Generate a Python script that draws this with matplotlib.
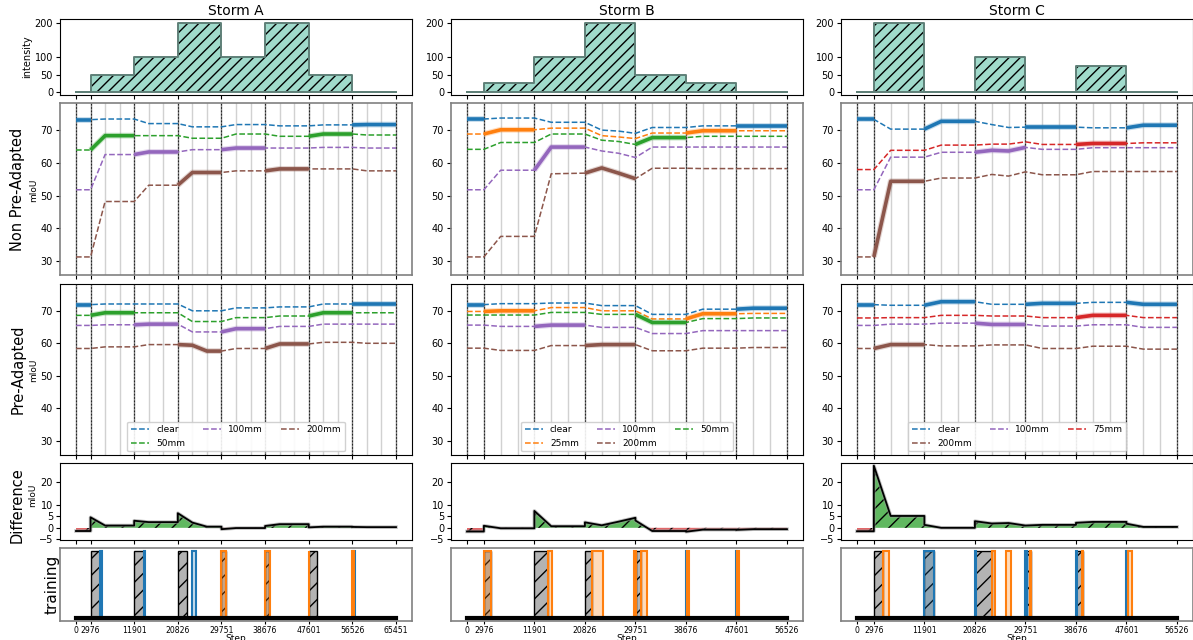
import numpy as np
import matplotlib
matplotlib.use("Agg")
import matplotlib.pyplot as plt
from matplotlib.lines import Line2D

# ---------------- data ----------------
storms = ["Storm A", "Storm B", "Storm C"]

steps_A = [0, 2976, 5951, 8926, 11901, 14876, 17851, 20826, 23801, 26776, 29751,
           32726, 35701, 38676, 41651, 44626, 47601, 50576, 53551, 56526, 59501, 62476, 65451]
steps_B = [0, 2976, 5951, 8926, 11901, 14876, 17851, 20826, 23801, 26776, 29751,
           32726, 35701, 38676, 41651, 44626, 47601, 50576, 53551, 56526]
steps_C = list(steps_B)

bounds_A = [0, 2976, 11901, 20826, 29751, 38676, 47601, 56526, 65451]
bounds_B = [0, 2976, 11901, 20826, 29751, 38676, 47601, 56526]
bounds_C = [0, 2976, 11901, 20826, 29751, 38676, 47601, 56526]

phase_cond_A = ["clear", "50mm", "100mm", "200mm", "100mm", "200mm", "50mm", "clear"]
phase_cond_B = ["clear", "25mm", "100mm", "200mm", "50mm", "25mm", "clear"]
phase_cond_C = ["clear", "200mm", "clear", "100mm", "clear", "75mm", "clear"]

intensity_A = [0, 50, 100, 200, 100, 200, 50, 0]
intensity_B = [0, 25, 100, 200, 50, 25, 0]
intensity_C = [0, 200, 0, 100, 0, 75, 0]

legend_order_A = ["clear", "50mm", "100mm", "200mm"]
legend_order_B = ["clear", "25mm", "100mm", "200mm", "50mm"]
legend_order_C = ["clear", "200mm", "100mm", "75mm"]

# Non pre-adapted mIoU
non_A_clear = [73.3, 73.3, 73.5, 73.5, 73.5, 72.1, 72.1, 72.1, 71.1, 71.1, 71.1, 71.8, 71.8, 71.8, 71.4, 71.4, 71.4, 71.7, 71.7, 71.7, 71.8, 71.8, 71.8]
non_A_50 = [64.0, 64.0, 68.4, 68.4, 68.4, 68.4, 68.4, 68.4, 67.6, 67.6, 67.6, 68.9, 68.9, 68.9, 68.2, 68.2, 68.2, 68.9, 68.9, 68.9, 68.6, 68.6, 68.6]
non_A_100 = [51.8, 51.8, 62.6, 62.6, 62.6, 63.4, 63.4, 63.4, 64.1, 64.1, 64.1, 64.6, 64.6, 64.6, 64.6, 64.6, 64.6, 64.8, 64.8, 64.8, 64.6, 64.6, 64.6]
non_A_200 = [31.2, 31.2, 48.2, 48.2, 48.2, 53.2, 53.2, 53.2, 57.1, 57.1, 57.1, 57.6, 57.6, 57.6, 58.2, 58.2, 58.2, 58.2, 58.2, 58.2, 57.6, 57.6, 57.6]

non_B_clear = [73.5, 73.5, 73.8, 73.8, 73.8, 72.5, 72.5, 72.5, 70.1, 69.8, 69.1, 70.9, 70.9, 70.9, 71.4, 71.4, 71.4, 71.4, 71.4, 71.4]
non_B_25 = [68.9, 68.9, 70.2, 70.2, 70.2, 70.7, 70.7, 70.7, 68.4, 68.0, 67.5, 69.2, 69.2, 69.2, 69.9, 69.9, 69.9, 69.9, 69.9, 69.9]
non_B_50 = [64.2, 64.2, 66.3, 66.3, 66.3, 68.9, 68.9, 68.9, 67.0, 66.6, 65.7, 67.8, 67.8, 67.8, 68.2, 68.2, 68.2, 68.2, 68.2, 68.2]
non_B_100 = [51.8, 51.8, 57.8, 57.8, 57.8, 64.9, 64.9, 64.9, 63.7, 63.0, 61.7, 64.9, 64.9, 64.9, 64.9, 64.9, 64.9, 64.9, 64.9, 64.9]
non_B_200 = [31.2, 31.2, 37.5, 37.5, 37.5, 56.7, 56.8, 56.9, 58.5, 56.9, 55.2, 58.4, 58.4, 58.4, 58.3, 58.3, 58.3, 58.3, 58.3, 58.3]

non_C_clear = [73.4, 73.4, 70.4, 70.4, 70.4, 72.8, 72.8, 72.8, 71.8, 70.9, 71.0, 71.0, 71.0, 71.0, 70.8, 70.8, 70.8, 71.6, 71.6, 71.6]
non_C_75 = [58.0, 58.0, 63.9, 63.9, 63.9, 65.5, 65.5, 65.5, 65.8, 65.8, 66.5, 65.7, 65.7, 65.7, 66.0, 66.0, 66.0, 66.2, 66.2, 66.2]
non_C_100 = [51.8, 51.8, 61.8, 61.8, 61.8, 63.3, 63.3, 63.3, 63.9, 63.7, 64.8, 64.2, 64.2, 64.2, 64.7, 64.7, 64.7, 64.7, 64.7, 64.7]
non_C_200 = [31.2, 31.2, 54.4, 54.4, 54.4, 55.4, 55.4, 55.4, 56.5, 56.0, 57.3, 56.4, 56.4, 56.4, 57.4, 57.4, 57.4, 57.4, 57.4, 57.4]

# Pre-adapted mIoU
pre_A_clear = [71.9, 71.9, 72.1, 72.1, 72.1, 72.1, 72.1, 72.1, 70.0, 70.0, 70.0, 70.9, 70.9, 70.9, 71.2, 71.2, 71.2, 72.1, 72.1, 72.1, 72.1, 72.1, 72.1]
pre_A_50 = [68.6, 68.6, 69.4, 69.4, 69.4, 69.4, 69.4, 69.4, 66.7, 66.7, 66.7, 67.9, 67.9, 67.9, 68.4, 68.4, 68.4, 69.4, 69.4, 69.4, 69.4, 69.4, 69.4]
pre_A_100 = [65.5, 65.5, 65.7, 65.7, 65.7, 65.9, 65.9, 65.9, 63.5, 63.5, 63.5, 64.5, 64.5, 64.5, 65.2, 65.2, 65.2, 65.9, 65.9, 65.9, 65.9, 65.9, 65.9]
pre_A_200 = [58.4, 58.4, 58.9, 58.9, 58.9, 59.6, 59.6, 59.6, 59.4, 57.6, 57.6, 58.4, 58.4, 58.4, 59.8, 59.8, 59.8, 60.3, 60.3, 60.3, 60.0, 60.0, 60.0]

pre_B_clear = [71.9, 71.9, 72.2, 72.2, 72.2, 72.4, 72.4, 72.4, 71.6, 71.6, 71.6, 68.9, 68.9, 68.9, 70.5, 70.5, 70.5, 70.8, 70.8, 70.8]
pre_B_25 = [69.8, 69.8, 70.0, 70.0, 70.0, 71.0, 71.0, 71.0, 70.0, 70.0, 70.0, 67.5, 67.5, 67.5, 69.1, 69.1, 69.1, 69.2, 69.2, 69.2]
pre_B_50 = [68.7, 68.7, 68.7, 68.7, 68.7, 69.5, 69.5, 69.5, 68.9, 68.9, 68.9, 66.4, 66.4, 66.4, 67.6, 67.6, 67.6, 67.8, 67.8, 67.8]
pre_B_100 = [65.6, 65.6, 65.2, 65.2, 65.2, 65.6, 65.6, 65.6, 64.9, 64.9, 64.9, 63.0, 63.0, 63.0, 63.9, 63.9, 63.9, 63.9, 63.9, 63.9]
pre_B_200 = [58.5, 58.5, 57.8, 57.8, 57.8, 59.3, 59.3, 59.3, 59.6, 59.6, 59.6, 57.7, 57.7, 57.7, 58.5, 58.5, 58.5, 58.7, 58.7, 58.7]

pre_C_clear = [71.9, 71.9, 71.7, 71.7, 71.7, 72.8, 72.8, 72.8, 72.0, 72.0, 72.0, 72.3, 72.3, 72.3, 72.6, 72.6, 72.6, 72.0, 72.0, 72.0]
pre_C_75 = [67.8, 67.8, 67.9, 67.9, 67.9, 68.6, 68.6, 68.6, 68.4, 68.4, 68.4, 67.9, 67.9, 67.9, 68.6, 68.6, 68.6, 67.9, 67.9, 67.9]
pre_C_100 = [65.5, 65.5, 65.9, 65.9, 65.9, 66.2, 66.2, 66.2, 65.8, 65.8, 65.8, 65.3, 65.3, 65.3, 65.7, 65.7, 65.7, 64.9, 64.9, 64.9]
pre_C_200 = [58.4, 58.4, 59.6, 59.6, 59.6, 59.2, 59.2, 59.2, 59.5, 59.5, 59.5, 58.4, 58.4, 58.4, 59.1, 59.1, 59.1, 58.2, 58.2, 58.2]

# training spans (start step, width in steps)
gray_start_A = [2976, 11901, 20826, 29751, 38676, 47601]
gray_width_A = [1950, 1950, 1950, 900, 900, 1750]
blue_start_A = [4926, 13851, 23700, 56750]
blue_width_A = [300, 300, 750, 350]
orange_start_A = [29650, 38626, 47601, 56500]
orange_width_A = [1000, 1000, 120, 300]

gray_start_B = [2976, 11901, 20826, 29851]
gray_width_B = [1250, 2350, 1250, 800]
blue_start_B = [38676, 47601]
blue_width_B = [120, 120]
orange_start_B = [2976, 14250, 22076, 29500, 30650, 38800, 47700]
orange_width_B = [1250, 750, 1950, 350, 1150, 450, 350]

gray_start_C = [2976, 11901, 20826, 29751, 38676]
gray_width_C = [1600, 1700, 3100, 1000, 1300]
blue_start_C = [11901, 20826, 29751, 38676, 47601]
blue_width_C = [1700, 150, 250, 150, 250]
orange_start_C = [4576, 23926, 26376, 30500, 39750, 47851]
orange_width_C = [1150, 400, 850, 300, 250, 650]

# ---------------- tables built from the lists ----------------
COLORS = {"clear": "tab:blue", "25mm": "tab:orange", "50mm": "tab:green",
          "75mm": "tab:red", "100mm": "tab:purple", "200mm": "tab:brown"}

S = {
    "Storm A": dict(steps=steps_A, bounds=bounds_A, cond=phase_cond_A, inten=intensity_A,
                    order=legend_order_A,
                    non={"clear": non_A_clear, "50mm": non_A_50, "100mm": non_A_100, "200mm": non_A_200},
                    pre={"clear": pre_A_clear, "50mm": pre_A_50, "100mm": pre_A_100, "200mm": pre_A_200},
                    gray=(gray_start_A, gray_width_A), blue=(blue_start_A, blue_width_A),
                    orange=(orange_start_A, orange_width_A)),
    "Storm B": dict(steps=steps_B, bounds=bounds_B, cond=phase_cond_B, inten=intensity_B,
                    order=legend_order_B,
                    non={"clear": non_B_clear, "25mm": non_B_25, "50mm": non_B_50, "100mm": non_B_100, "200mm": non_B_200},
                    pre={"clear": pre_B_clear, "25mm": pre_B_25, "50mm": pre_B_50, "100mm": pre_B_100, "200mm": pre_B_200},
                    gray=(gray_start_B, gray_width_B), blue=(blue_start_B, blue_width_B),
                    orange=(orange_start_B, orange_width_B)),
    "Storm C": dict(steps=steps_C, bounds=bounds_C, cond=phase_cond_C, inten=intensity_C,
                    order=legend_order_C,
                    non={"clear": non_C_clear, "75mm": non_C_75, "100mm": non_C_100, "200mm": non_C_200},
                    pre={"clear": pre_C_clear, "75mm": pre_C_75, "100mm": pre_C_100, "200mm": pre_C_200},
                    gray=(gray_start_C, gray_width_C), blue=(blue_start_C, blue_width_C),
                    orange=(orange_start_C, orange_width_C)),
}

# ---------------- figure ----------------
W, H = 1193, 640
fig = plt.figure(figsize=(W / 100, H / 100), dpi=100)
lefts = [60 / W, 451 / W, 841 / W]
width = 352 / W
rows = [(0.851, 0.970), (0.570, 0.839), (0.289, 0.557), (0.156, 0.277), (0.030, 0.143)]

TICK_FS = 7.0

for ci, name in enumerate(storms):
    d = S[name]
    steps = d["steps"]
    bounds = d["bounds"]
    xmax = steps[-1]
    xlim = (-0.05 * xmax, 1.05 * xmax)
    axs = [fig.add_axes([lefts[ci], b, width, t - b]) for (b, t) in rows]
    ax_int, ax_non, ax_pre, ax_dif, ax_tr = axs

    for ax in axs:
        ax.set_xlim(*xlim)
        ax.set_xticks(bounds)
        ax.tick_params(axis="both", labelsize=TICK_FS, length=3, width=0.8, pad=2)
        ax.tick_params(axis="x", labelbottom=False)

    # --- intensity ---
    yext = list(d["inten"]) + [d["inten"][-1]]
    ax_int.fill_between(bounds, yext, 0, step="post", facecolor="#a0dacb",
                        edgecolor="black", linewidth=0, hatch="///", zorder=2)
    ax_int.step(bounds, yext, where="post", color="#5f8078", lw=1.4, zorder=3)
    ax_int.plot([bounds[0], bounds[-1]], [0, 0], color="#5f8078", lw=1.4, zorder=3)
    ax_int.set_ylim(-10, 210)
    ax_int.set_yticks([0, 50, 100, 200])
    ax_int.set_title(name, fontsize=10, pad=3)

    # --- mIoU panels ---
    for ax, key in ((ax_non, "non"), (ax_pre, "pre")):
        vals = d[key]
        for s in steps:
            if s in bounds:
                ax.axvline(s, color="0.4", lw=1.0, alpha=0.8, zorder=1)
                ax.axvline(s, color="black", lw=0.8, ls=(0, (1.5, 1.5)), alpha=0.7, zorder=1.1)
            else:
                ax.axvline(s, color="0.6", lw=1.0, alpha=0.45, zorder=1)
        for c in d["order"]:
            ax.plot(steps, vals[c], color=COLORS[c], lw=1.1, ls="--", zorder=3)
        for i, c in enumerate(d["cond"]):
            i0 = steps.index(bounds[i])
            i1 = steps.index(bounds[i + 1])
            ax.plot(steps[i0:i1 + 1], vals[c][i0:i1 + 1], color=COLORS[c], lw=4.2,
                    alpha=0.25, solid_capstyle="butt", zorder=4)
            ax.plot(steps[i0:i1 + 1], vals[c][i0:i1 + 1], color=COLORS[c], lw=2.6,
                    solid_capstyle="butt", zorder=4.1)
        ax.set_ylim(25.6, 78.4)
        ax.set_yticks([30, 40, 50, 60, 70])
    for sp in ax_non.spines.values():
        sp.set_color("0.5")
        sp.set_linewidth(1.2)

    handles = [Line2D([], [], color=COLORS[c], lw=1.1, ls="--", label=c) for c in d["order"]]
    ax_pre.legend(handles=handles, loc="lower center", ncol=3, fontsize=6.5,
                  framealpha=0.9, borderaxespad=0.4, handlelength=2.0)

    # --- difference ---
    dx, dy = [], []
    for i, c in enumerate(d["cond"]):
        i0 = steps.index(bounds[i])
        i1 = steps.index(bounds[i + 1])
        for k in range(i0, i1 + 1):
            dx.append(steps[k])
            dy.append(d["pre"][c][k] - d["non"][c][k])
    dx = np.array(dx, float)
    dy = np.array(dy, float)
    ax_dif.fill_between(dx, dy, 0, where=dy >= 0, interpolate=True,
                        facecolor=(0.17, 0.63, 0.17, 0.75), edgecolor="black",
                        linewidth=0, hatch="//", zorder=2)
    ax_dif.fill_between(dx, dy, 0, where=dy <= 0, interpolate=True,
                        facecolor=(0.84, 0.15, 0.16, 0.7), edgecolor="black",
                        linewidth=0, hatch="//", zorder=2)
    ax_dif.plot(dx, dy, color="0.6", lw=2.6, alpha=0.6, zorder=3)
    ax_dif.plot(dx, dy, color="black", lw=1.3, zorder=4)
    ax_dif.set_ylim(-5.4, 28.5)
    ax_dif.set_yticks([-5, 0, 5, 10, 20])

    # --- training ---
    gs, gw = d["gray"]
    ax_tr.bar(gs, 1.0, width=gw, align="edge", facecolor="#b3b3b3",
              edgecolor="black", hatch="//", linewidth=1.0, zorder=2)
    bs, bw = d["blue"]
    ax_tr.bar(bs, 1.0, width=bw, align="edge", facecolor=(0.12, 0.47, 0.71, 0.25),
              edgecolor="tab:blue", linewidth=1.5, zorder=3)
    os_, ow = d["orange"]
    ax_tr.bar(os_, 1.0, width=ow, align="edge", facecolor=(1.0, 0.5, 0.05, 0.28),
              edgecolor="tab:orange", linewidth=1.5, zorder=3)
    ax_tr.plot([0, xmax], [0, 0], color="black", lw=3, zorder=5)
    ax_tr.set_ylim(-0.048, 1.035)
    ax_tr.set_yticks([])
    ax_tr.tick_params(axis="x", labelbottom=True, labelsize=5.6, pad=1.0, length=2.5)
    ax_tr.set_xticklabels([str(b) for b in bounds])
    ax_tr.set_xlabel("Step", fontsize=6.5, labelpad=-0.5)
    for sp in ax_tr.spines.values():
        sp.set_color("0.5")
        sp.set_linewidth(1.2)

# ---------------- row labels (left column) ----------------
def ftxt(xpx, ypx, s, fs):
    fig.text(xpx / W, 1 - ypx / H, s, rotation=90, ha="center", va="center", fontsize=fs)

ftxt(27, 57, "intensity", 7)
ftxt(18, 189, "Non Pre-Adapted", 10.5)
ftxt(34, 190, "mIoU", 6.5)
ftxt(18, 369, "Pre-Adapted", 10.5)
ftxt(34, 370, "mIoU", 6.5)
ftxt(17, 505, "Difference", 10.5)
ftxt(33, 495, "mIoU", 6.5)
ftxt(52, 584, "training", 11)

fig.savefig("out.png", dpi=100)
